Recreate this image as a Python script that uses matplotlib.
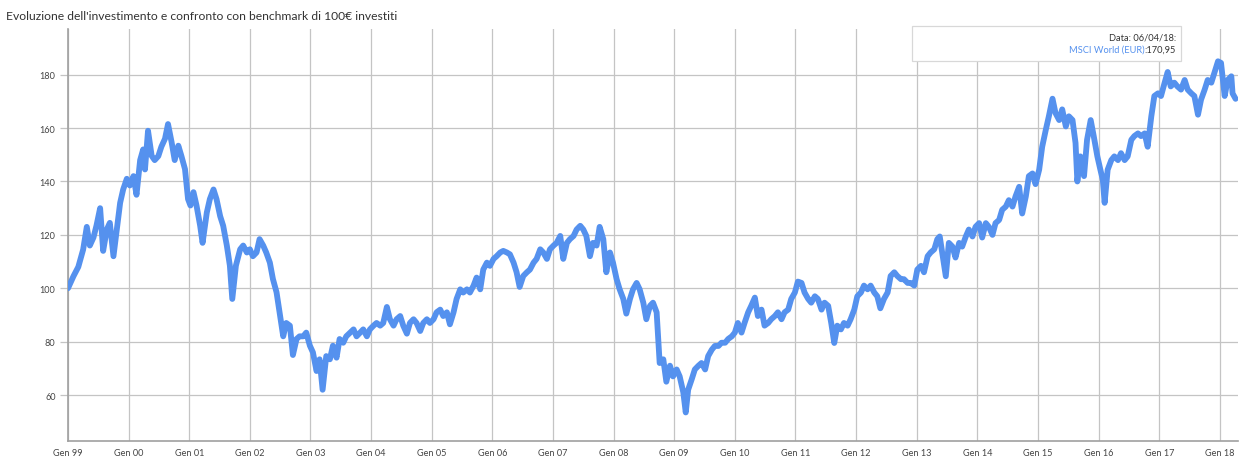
import matplotlib
matplotlib.use("Agg")
import matplotlib.pyplot as plt
from matplotlib.patches import Rectangle

# Time axis in decimal years, MSCI World (EUR) rebased to 100
anni = [
    1999.00, 1999.09, 1999.17, 1999.25, 1999.31, 1999.36, 1999.42, 1999.47, 1999.53, 1999.58,
    1999.64, 1999.69, 1999.75, 1999.80, 1999.86, 1999.91, 1999.97, 2000.02, 2000.08, 2000.13,
    2000.19, 2000.24, 2000.27, 2000.32, 2000.38, 2000.43, 2000.49, 2000.54, 2000.60, 2000.65,
    2000.71, 2000.76, 2000.82, 2000.87, 2000.93, 2000.98, 2001.02, 2001.07, 2001.12, 2001.18,
    2001.22, 2001.29, 2001.34, 2001.40, 2001.45, 2001.51, 2001.56, 2001.62, 2001.67, 2001.71,
    2001.77, 2001.84, 2001.89, 2001.95, 2002.00, 2002.05, 2002.11, 2002.16, 2002.22, 2002.27,
    2002.33, 2002.38, 2002.44, 2002.49, 2002.55, 2002.60, 2002.66, 2002.71, 2002.77, 2002.82,
    2002.88, 2002.93, 2002.99, 2003.04, 2003.10, 2003.15, 2003.20, 2003.26, 2003.32, 2003.37,
    2003.43, 2003.48, 2003.54, 2003.59,
    2003.71, 2003.76, 2003.82, 2003.87, 2003.93, 2003.98, 2004.04, 2004.09, 2004.15, 2004.20,
    2004.26, 2004.31, 2004.37, 2004.42, 2004.48, 2004.53, 2004.59, 2004.64, 2004.70, 2004.75,
    2004.81, 2004.86, 2004.92, 2004.97, 2005.03, 2005.08, 2005.14, 2005.19, 2005.25, 2005.30,
    2005.36, 2005.41, 2005.47, 2005.52, 2005.58, 2005.63, 2005.69, 2005.74, 2005.80, 2005.85,
    2005.91, 2005.96, 2006.02, 2006.07, 2006.13, 2006.18, 2006.24, 2006.29, 2006.35, 2006.40,
    2006.45, 2006.51, 2006.57, 2006.62, 2006.68, 2006.73, 2006.79, 2006.84, 2006.90, 2006.95,
    2007.01, 2007.06, 2007.12, 2007.17, 2007.23, 2007.28, 2007.34, 2007.39, 2007.45, 2007.50,
    2007.55, 2007.61, 2007.66, 2007.72, 2007.77, 2007.83, 2007.88, 2007.94, 2007.99, 2008.05,
    2008.10, 2008.16, 2008.21, 2008.27, 2008.32, 2008.38, 2008.43, 2008.49, 2008.54, 2008.60,
    2008.65, 2008.71, 2008.76, 2008.82, 2008.87, 2008.93, 2008.98, 2009.04, 2009.09, 2009.15,
    2009.19, 2009.23, 2009.29, 2009.34, 2009.40, 2009.45, 2009.51, 2009.56, 2009.62, 2009.67,
    2009.73, 2009.78, 2009.84, 2009.89, 2009.95, 2010.00, 2010.05, 2010.11, 2010.16, 2010.22,
    2010.27, 2010.33, 2010.38, 2010.44, 2010.49, 2010.55, 2010.60, 2010.66, 2010.71, 2010.77,
    2010.82, 2010.88, 2010.93, 2010.99, 2011.04, 2011.10, 2011.15, 2011.21, 2011.26, 2011.32,
    2011.37, 2011.43, 2011.48, 2011.54, 2011.59, 2011.64, 2011.69, 2011.75, 2011.80, 2011.86,
    2011.91, 2011.97, 2012.02, 2012.08, 2012.13, 2012.19, 2012.24, 2012.30, 2012.35, 2012.40,
    2012.46, 2012.52, 2012.57, 2012.63, 2012.68, 2012.74, 2012.79, 2012.85, 2012.90, 2012.96,
    2013.01, 2013.07, 2013.12, 2013.18, 2013.23, 2013.29, 2013.34, 2013.38, 2013.43, 2013.48,
    2013.53, 2013.59, 2013.64, 2013.70, 2013.75, 2013.81, 2013.86, 2013.92, 2013.97, 2014.03,
    2014.08, 2014.14, 2014.19, 2014.25, 2014.30, 2014.36, 2014.41, 2014.47, 2014.52, 2014.58,
    2014.63, 2014.69, 2014.74, 2014.80, 2014.85, 2014.91, 2014.96, 2015.02, 2015.07, 2015.13,
    2015.18, 2015.24, 2015.29, 2015.35, 2015.40, 2015.46, 2015.51, 2015.57, 2015.62, 2015.65,
    2015.70, 2015.76, 2015.81, 2015.87, 2015.92, 2015.98, 2016.03, 2016.07, 2016.10, 2016.15,
    2016.21, 2016.26, 2016.32, 2016.37, 2016.43, 2016.48, 2016.54, 2016.59, 2016.65, 2016.70,
    2016.76, 2016.81, 2016.87, 2016.92, 2016.98, 2017.03, 2017.09, 2017.14, 2017.19, 2017.25,
    2017.30, 2017.36, 2017.42, 2017.47, 2017.53, 2017.58, 2017.64, 2017.69, 2017.75, 2017.80,
    2017.86, 2017.91, 2017.97, 2018.02, 2018.08, 2018.13, 2018.19, 2018.21, 2018.26,
]

valori = [
    100.0, 104.5, 108.0, 114.5, 123.0, 116.0, 119.0, 123.5, 130.0, 114.0,
    122.0, 124.5, 112.0, 121.0, 132.0, 137.0, 141.0, 138.5, 142.0, 135.0,
    148.0, 152.0, 144.5, 159.0, 149.6, 148.0, 149.5, 153.0, 156.0, 161.5,
    154.6, 148.0, 153.4, 149.6, 144.6, 133.4, 131.0, 136.0, 131.0, 123.4,
    117.0, 128.4, 133.4, 137.0, 133.4, 127.0, 123.4, 116.0, 108.5, 96.0,
    108.5, 114.6, 116.0, 113.4, 114.6, 112.0, 113.4, 118.4, 116.0, 113.4,
    109.6, 103.5, 98.5, 91.0, 82.0, 87.0, 86.0, 75.0, 81.0, 82.0,
    82.0, 83.4, 78.5, 76.0, 69.0, 73.4, 62.0, 74.6, 73.4, 78.5,
    74.0, 81.0, 79.6, 82.0,
    84.6, 82.0, 83.4, 84.6, 82.0, 84.6, 86.0, 87.0, 86.0, 87.0,
    93.0, 88.4, 86.0, 88.4, 89.6, 86.0, 83.0, 87.0, 88.4, 87.0,
    84.0, 87.0, 88.4, 87.0, 88.4, 91.0, 92.0, 89.6, 91.0, 86.5,
    91.0, 96.0, 99.6, 98.4, 99.6, 98.4, 101.0, 104.0, 99.6, 107.0,
    109.6, 108.4, 111.0, 112.0, 113.4, 114.0, 113.4, 112.7, 109.6, 106.0,
    100.5, 104.6, 106.0, 107.0, 109.6, 111.0, 114.6, 113.4, 111.0, 114.6,
    116.0, 117.0, 119.6, 111.0, 117.0, 118.4, 119.6, 122.0, 123.4, 122.0,
    119.6, 112.0, 117.0, 116.0, 123.0, 118.4, 106.0, 113.4, 109.6, 103.4,
    99.6, 96.0, 90.5, 96.0, 99.6, 102.0, 99.6, 94.6, 88.4, 93.4,
    94.6, 91.0, 72.0, 73.4, 65.0, 71.0, 67.0, 69.6, 67.0, 61.0,
    53.5, 62.0, 66.0, 69.6, 71.0, 72.0, 69.6, 74.6, 77.0, 78.4,
    78.4, 79.6, 79.6, 81.0, 82.0, 83.4, 87.0, 83.4, 87.0, 91.0,
    93.4, 96.5, 89.6, 92.0, 86.0, 87.0, 88.4, 89.6, 91.0, 88.4,
    91.0, 92.0, 96.0, 98.4, 102.5, 102.0, 98.4, 96.0, 94.6, 97.0,
    96.0, 92.0, 94.6, 93.4, 87.0, 79.5, 86.0, 84.6, 87.0, 86.0,
    88.4, 92.0, 97.0, 98.4, 101.0, 99.6, 101.0, 98.4, 97.0, 92.5,
    96.0, 98.4, 104.6, 106.0, 104.6, 103.4, 103.4, 102.0, 102.0, 101.0,
    107.0, 108.4, 106.0, 112.0, 113.4, 114.6, 118.4, 119.4, 112.0, 104.5,
    117.0, 115.6, 111.5, 117.0, 115.6, 119.4, 122.0, 119.4, 123.0, 124.4,
    119.0, 124.4, 123.0, 120.0, 124.4, 125.6, 129.4, 130.6, 133.0, 130.6,
    134.4, 138.0, 128.0, 134.4, 142.0, 143.0, 139.0, 144.4, 153.0, 159.4,
    164.4, 171.0, 165.6, 163.0, 167.0, 160.6, 164.4, 163.0, 154.4, 140.0,
    149.4, 142.0, 155.6, 163.0, 157.0, 149.4, 144.4, 140.6, 132.0, 144.4,
    148.0, 149.4, 148.0, 150.6, 148.0, 149.4, 155.6, 157.0, 158.0, 157.0,
    158.0, 153.0, 164.4, 172.0, 173.0, 172.0, 177.0, 181.0, 175.6, 177.0,
    175.6, 174.4, 178.0, 174.4, 173.0, 172.0, 165.0, 170.6, 174.4, 178.0,
    177.0, 180.6, 185.0, 184.4, 172.0, 178.0, 179.4, 173.0, 170.95,
]

tick_anni = list(range(1999, 2019))
tick_etichette = ["Gen %02d" % (a % 100) for a in tick_anni]
y_ticks = [60, 80, 100, 120, 140, 160, 180]

titolo = "Evoluzione dell'investimento e confronto con benchmark di 100€ investiti"
serie = "MSCI World (EUR)"
data_ultima = "06/04/18"
valore_ultimo = valori[-1]

BLU = "#5591ee"
GRIGIO_TESTO = "#333333"
FONT = ["Lato", "DejaVu Sans"]

plt.rcParams["font.family"] = FONT

W, H = 1242, 460
fig = plt.figure(figsize=(W / 100, H / 100), dpi=100)
fig.patch.set_facecolor("white")

ax = fig.add_axes([68 / W, 1 - 442 / H, (1238 - 68) / W, (442 - 30) / H])
ax.plot(anni, valori, color=BLU, lw=4.2, solid_joinstyle="round",
        solid_capstyle="round", zorder=3)

ax.set_xlim(1999.0, 2018.30)
ax.set_ylim(42.8, 197.1)

ax.set_xticks(tick_anni)
ax.set_xticklabels(tick_etichette)
ax.set_yticks(y_ticks)
ax.set_yticklabels([str(v) for v in y_ticks])

ax.grid(True, color="#c4c4c4", lw=0.9, zorder=0)
for side in ("top", "right"):
    ax.spines[side].set_visible(False)
for side in ("left", "bottom"):
    ax.spines[side].set_color("#a0a0a0")
    ax.spines[side].set_linewidth(1.2)

ax.tick_params(axis="x", length=0, pad=5, labelsize=6.6, labelcolor="#444444")
ax.tick_params(axis="y", length=6, width=0.9, color="#c4c4c4", pad=3,
               labelsize=6.6, labelcolor="#444444")

fig.text(6 / W, 1 - 16 / H, titolo, fontsize=8.7, color=GRIGIO_TESTO,
         ha="left", va="center")

# Tooltip box with the last value
box = Rectangle((912 / W, 1 - 62 / H), (1181 - 912) / W, (62 - 27) / H,
                transform=fig.transFigure, facecolor="white",
                edgecolor="#d8d8d8", lw=0.9, zorder=10)
fig.patches.append(box)

x_dx = 1176 / W
fig.text(x_dx, 1 - 38 / H, "Data: %s:" % data_ultima, fontsize=6.7,
         color=GRIGIO_TESTO, ha="right", va="center", zorder=11)
t_val = fig.text(x_dx, 1 - 50 / H, ":" + ("%.2f" % valore_ultimo).replace(".", ","),
                 fontsize=6.7, color=GRIGIO_TESTO, ha="right", va="center",
                 zorder=11)
renderer = fig.canvas.get_renderer()
bb = t_val.get_window_extent(renderer=renderer)
fig.text(bb.x0 / W, 1 - 50 / H, serie, fontsize=6.7, color=BLU,
         ha="right", va="center", zorder=11)

fig.savefig("out.png", dpi=100)
